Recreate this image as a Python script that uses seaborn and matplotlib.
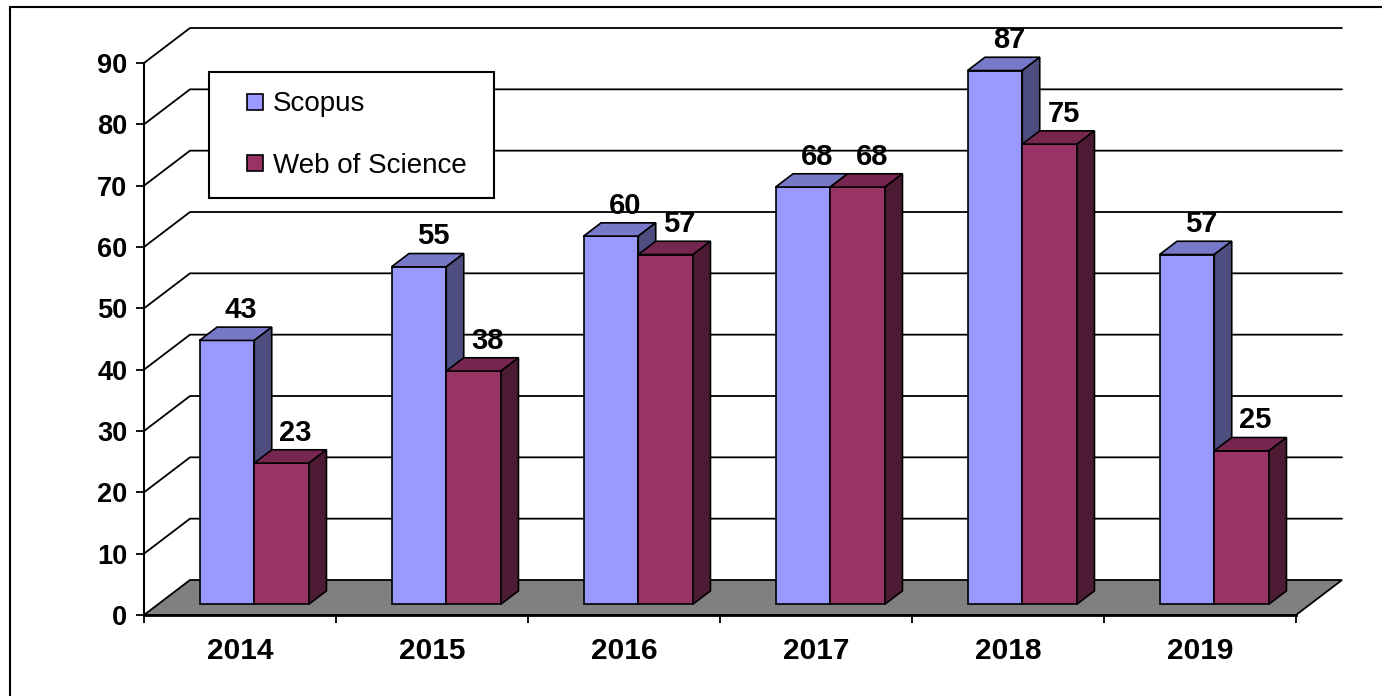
import numpy as np
import pandas as pd
import seaborn as sns
import matplotlib.pyplot as plt
from matplotlib.patches import Polygon
from matplotlib.lines import Line2D

# Data
years = ["2014", "2015", "2016", "2017", "2018", "2019"]
scopus = [43, 55, 60, 68, 87, 57]
wos = [23, 38, 57, 68, 75, 25]
series = ["Scopus", "Web of Science"]
yticks = list(range(0, 100, 10))

# Excel style colours: front, top and side faces
colors = ["#9999FF", "#993366"]
tops = ["#7878C8", "#772650"]
sides = ["#4D4D80", "#4D1A33"]

df = pd.DataFrame({
    "Year": years * 2,
    "Count": scopus + wos,
    "Source": [series[0]] * len(years) + [series[1]] * len(years),
})

sns.set_style("white")
plt.rcParams["font.family"] = ["Liberation Sans", "DejaVu Sans"]
plt.rcParams["text.color"] = "black"

W, H = 1382, 696
fig = plt.figure(figsize=(W / 100, H / 100), dpi=100)
ax = fig.add_axes([144 / W, 81 / H, 1152 / W, 552 / H])
ax.set_facecolor("none")

sns.barplot(data=df, x="Year", y="Count", hue="Source", palette=colors,
            width=0.57, saturation=1, edgecolor="black", linewidth=1.2,
            legend=False, ax=ax)

ax.set_xlim(-0.5, 5.5)
ax.set_ylim(0, 90)

# depth of the 3d box in data units (46 px right, 35 px up)
DX = 46 / 192
DY = 35 / (552 / 90)
F0, F1 = 0.31, 0.69  # front and back of the bars, as fraction of depth
bdx, bdy = (F1 - F0) * DX, (F1 - F0) * DY

# walls: gridlines run from the axis back into the wall
for v in yticks[1:]:
    ax.plot([-0.5, -0.5 + DX, 5.5 + DX], [v, v + DY, v + DY],
            color="black", lw=1.3, clip_on=False, zorder=1)

# floor
ax.add_patch(Polygon([(-0.5, 0), (5.5, 0), (5.5 + DX, DY), (-0.5 + DX, DY)],
                     closed=True, fc="#808080", ec="black", lw=1.3,
                     clip_on=False, zorder=1.5))

# turn the flat bars into boxes
for i, cont in enumerate(ax.containers):
    for bar in cont:
        h = bar.get_height()
        bar.set_x(bar.get_x() + F0 * DX)
        bar.set_y(bar.get_y() + F0 * DY)
        bar.set_zorder(3 + i)
        bar.set_clip_on(False)
        x0, w, y0 = bar.get_x(), bar.get_width(), bar.get_y()
        x1, yt = x0 + w, y0 + h
        top = [(x0, yt), (x1, yt), (x1 + bdx, yt + bdy), (x0 + bdx, yt + bdy)]
        side = [(x1, y0), (x1, yt), (x1 + bdx, yt + bdy), (x1 + bdx, y0 + bdy)]
        ax.add_patch(Polygon(top, closed=True, fc=tops[i], ec="black", lw=1.2,
                             clip_on=False, zorder=3 + i))
        ax.add_patch(Polygon(side, closed=True, fc=sides[i], ec="black", lw=1.2,
                             clip_on=False, zorder=3 + i))
        ax.text(x0 + w / 2 + 0.8 * bdx, h + F1 * DY + 0.5, f"{h:.0f}",
                ha="center", va="bottom", fontsize=21, fontweight="bold",
                clip_on=False, zorder=6)

# axes
ax.set_xlabel("")
ax.set_ylabel("")
ax.set_yticks(yticks)
ax.set_yticklabels([str(t) for t in yticks], fontsize=19.5, fontweight="bold")
ax.tick_params(axis="y", left=True, length=6, width=1.3, pad=6,
               color="black", labelcolor="black")
ax.set_xticks(np.arange(-0.5, 6, 1))
ax.set_xticklabels([])
ax.set_xticks(range(len(years)), minor=True)
ax.set_xticklabels(years, minor=True, fontsize=21.5, fontweight="bold")
ax.tick_params(axis="x", which="major", bottom=True, length=6, width=1.3,
               color="black")
ax.tick_params(axis="x", which="minor", bottom=True, length=0, pad=16,
               labelcolor="black")
sns.despine(ax=ax, top=True, right=True)
ax.spines["left"].set_color("black")
ax.spines["left"].set_linewidth(1.5)
ax.spines["bottom"].set_color("black")
ax.spines["bottom"].set_linewidth(2)
ax.spines["bottom"].set_zorder(2)

# legend
handles = [Line2D([], [], marker="s", ls="none", markersize=12.2, mfc=c,
                  mec="black", mew=1.2) for c in colors]
leg = ax.legend(handles, series, loc="upper left", mode="expand",
                bbox_to_anchor=(209 / W, 1 - 195 / H, 285 / W, 123 / H),
                bbox_transform=fig.transFigure, borderaxespad=0,
                fancybox=False, edgecolor="black", framealpha=1,
                fontsize=20, borderpad=0.7, handlelength=1.9,
                handletextpad=-0.29, labelspacing=1.28)
leg.get_frame().set_linewidth(1.5)
leg.set_zorder(10)

# chart border (top and left edges visible)
fig.add_artist(Line2D([10 / W, 10 / W], [0, 1 - 7 / H],
                      transform=fig.transFigure, color="black", lw=1.5))
fig.add_artist(Line2D([10 / W, 1], [1 - 7 / H, 1 - 7 / H],
                      transform=fig.transFigure, color="black", lw=1.5))

fig.savefig("out.png", dpi=100)
